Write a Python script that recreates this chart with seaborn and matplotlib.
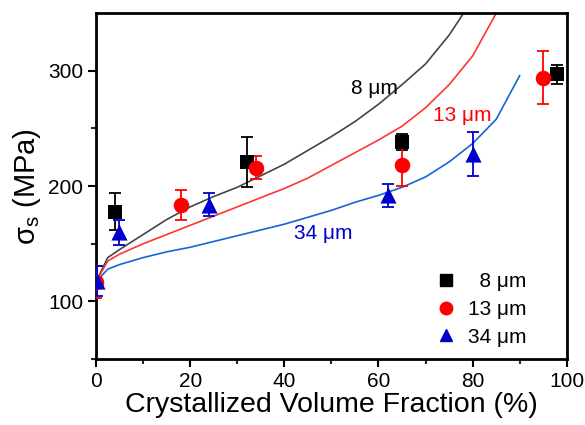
import numpy as np
import pandas as pd
import matplotlib
matplotlib.use("Agg")
import matplotlib.pyplot as plt
import seaborn as sns

# ---- model curves ----
curve_x_8 = [0, 2.5, 5, 10, 15, 20, 25, 30, 35, 40, 45, 50, 55, 60, 65, 70, 75, 80]
curve_y_8 = [117, 138, 145, 158, 171, 182, 191, 199, 209, 219, 231, 243, 256, 271, 288, 306, 331, 362]
curve_x_13 = [0, 2.5, 5, 10, 15, 20, 25, 30, 35, 40, 45, 50, 55, 60, 65, 70, 75, 80, 85]
curve_y_13 = [117, 135, 141, 150, 158, 166, 174, 182, 190, 198, 207, 218, 229, 240, 252, 268, 288, 313, 350]
curve_x_34 = [0, 2.5, 5, 10, 15, 20, 25, 30, 35, 40, 45, 50, 55, 60, 65, 70, 75, 80, 85, 90]
curve_y_34 = [117, 128, 132, 138, 143, 147, 152, 157, 162, 167, 173, 179, 186, 192, 199, 208, 221, 237, 258, 296]

# ---- measured points ----
pts_x_8 = [4, 32, 65, 98]
pts_y_8 = [178, 221, 238, 297]
pts_e_8 = [16, 22, 7, 8]
pts_x_13 = [0, 18, 34, 65, 95]
pts_y_13 = [117, 184, 216, 218, 294]
pts_e_13 = [14, 13, 10, 18, 23]
pts_x_34 = [0.3, 5, 24, 62, 80]
pts_y_34 = [118, 160, 184, 192, 228]
pts_e_34 = [13, 11, 10, 10, 19]

labels = ["8 μm", "13 μm", "34 μm"]
legend_labels = ["  8 μm", "13 μm", "34 μm"]
xticks = [0, 20, 40, 60, 80, 100]
yticks = [100, 200, 300]

sns.set_style("ticks")
plt.rcParams['font.family'] = ['Liberation Sans', 'DejaVu Sans']
plt.rcParams['mathtext.fontset'] = 'custom'
plt.rcParams['mathtext.rm'] = 'Liberation Sans'
plt.rcParams['text.color'] = 'black'
plt.rcParams['axes.labelcolor'] = 'black'

fig = plt.figure(figsize=(5.85, 4.25), dpi=100)
ax = fig.add_axes([0.164, 0.155, 0.805, 0.814])

line_colors = ["#454545", "#ff3535", "#1565d8"]
mark_colors = ["#000000", "#ff0000", "#0000cc"]
markers = ["s", "o", "^"]
msizes = [100, 125, 135]

curves = [(curve_x_8, curve_y_8), (curve_x_13, curve_y_13), (curve_x_34, curve_y_34)]
points = [(pts_x_8, pts_y_8, pts_e_8), (pts_x_13, pts_y_13, pts_e_13), (pts_x_34, pts_y_34, pts_e_34)]

for (cx, cy), lc in zip(curves, line_colors):
    df = pd.DataFrame({"x": cx, "y": cy})
    sns.lineplot(data=df, x="x", y="y", ax=ax, color=lc, lw=1.2, sort=False,
                 estimator=None, legend=False)

handles = []
for (px, py, pe), mc, mk, ms, lab in zip(points, mark_colors, markers, msizes, legend_labels):
    ax.errorbar(px, py, yerr=pe, fmt="none", ecolor=mc, elinewidth=1.3,
                capsize=4, capthick=1.3, zorder=3)
    df = pd.DataFrame({"x": px, "y": py})
    sns.scatterplot(data=df, x="x", y="y", ax=ax, color=mc, marker=mk, s=ms,
                    edgecolor=mc, linewidth=0, zorder=4, legend=False)
    handles.append(plt.Line2D([], [], ls="none", marker=mk, color=mc,
                              markersize=9 if mk != "s" else 8, label=lab))

ax.text(59.2, 285, labels[0], color="black", fontsize=15, ha="center", va="center")
ax.text(77.8, 261.5, labels[1], color="#ff0000", fontsize=15, ha="center", va="center")
ax.text(48.2, 159, labels[2], color="#0000cc", fontsize=15, ha="center", va="center")

leg = ax.legend(handles=handles, loc="lower right", frameon=False, fontsize=15,
                bbox_to_anchor=(0.955, -0.018), handletextpad=0.1, labelspacing=0.42,
                markerfirst=True)
for t in leg.get_texts():
    t.set_ha("right")
    t.set_color("black")

ax.set_xlim(0, 100)
ax.set_ylim(50, 350)
ax.set_xticks(xticks)
ax.set_yticks(yticks)
ax.set_xticks([10, 30, 50, 70, 90], minor=True)
ax.set_yticks([50, 150, 250], minor=True)
ax.tick_params(axis="both", which="major", direction="out", length=6, width=1.5,
               labelsize=15, colors="black", top=False, right=False, pad=3)
ax.tick_params(axis="both", which="minor", direction="out", length=3.5, width=1.5,
               top=False, right=False)
for s in ax.spines.values():
    s.set_visible(True)
    s.set_linewidth(2)
    s.set_color("black")

ax.set_xlabel("Crystallized Volume Fraction (%)", fontsize=20.5, labelpad=1)
ax.set_ylabel(r"σ$_\mathregular{s}$ (MPa)", fontsize=21, labelpad=4)

fig.savefig("out.png", dpi=100)
